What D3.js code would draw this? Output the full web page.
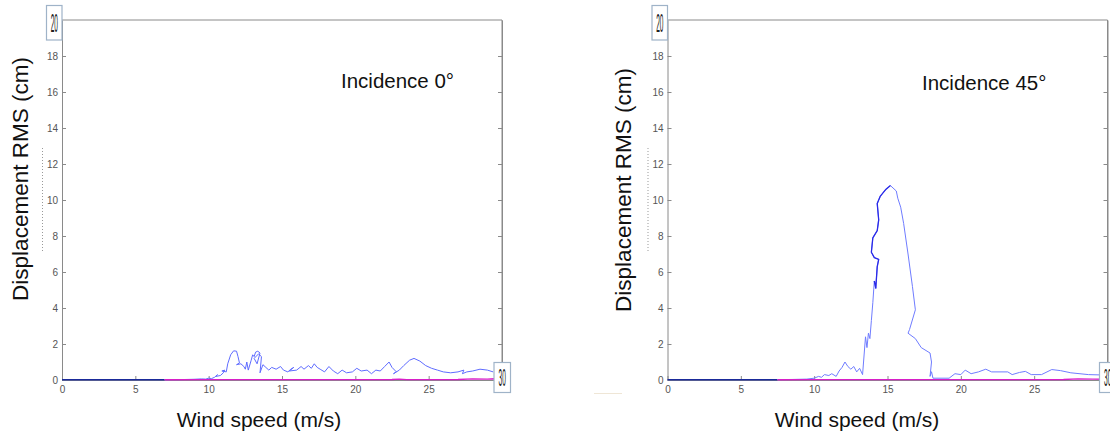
<!DOCTYPE html>
<html><head><meta charset="utf-8">
<script src="https://cdn.jsdelivr.net/npm/d3@7"></script>
<style>body{margin:0;background:#fff}svg{display:block}</style>
</head><body>
<svg id="c" width="1110" height="434"></svg>
<script>
// ---- data ----
const xTicks = [0,5,10,15,20,25];
const yTicks = [0,2,4,6,8,10,12,14,16,18];
const titles = ["Incidence 0°","Incidence 45°"];
const xLabel = "Wind speed (m/s)";
const yLabel = "Displacement RMS (cm)";

// left (0°) – blue trace, wind speed / RMS displacement
const leftWind = [7.0,7.5,8.0,8.5,9.0,9.5,9.8,10.0,10.2,10.4,10.6,10.5,10.8,11.0,11.1,10.9,11.2,11.3,11.5,11.7,11.9,12.0,12.1,11.9,12.2,12.4,12.5,12.6,12.7,12.9,13.0,13.1,13.2,13.35,13.5,13.3,13.1,13.4,13.6,13.5,13.7,13.9,14.1,14.3,14.6,14.9,15.1,15.4,15.6,15.8,15.5,16.0,16.3,16.5,16.8,17.0,17.2,17.4,17.6,17.9,18.2,18.5,18.8,19.1,19.4,19.8,20.1,20.4,20.8,21.1,21.4,21.7,22.0,22.3,22.5,22.8,22.6,23.0,23.3,23.7,24.0,24.4,24.8,25.2,25.6,26.0,26.5,27.0,27.4,27.3,27.6,28.0,28.5,29.0,29.4];
const leftDisp = [0.01,0.02,0.02,0.03,0.04,0.06,0.05,0.1,0.08,0.15,0.3,0.2,0.25,0.4,0.55,0.5,0.45,0.9,1.4,1.62,1.6,1.3,0.95,0.85,0.9,0.75,0.6,1.0,0.55,1.1,1.4,1.3,1.55,1.6,1.5,0.9,1.2,1.45,1.3,0.4,0.85,0.7,0.55,0.7,0.6,0.75,0.55,0.45,0.6,0.7,0.5,0.55,0.75,0.6,0.8,0.65,0.9,0.7,0.6,0.45,0.75,0.5,0.35,0.55,0.4,0.45,0.65,0.5,0.55,0.35,0.55,0.5,0.75,1.0,0.7,0.45,0.35,0.55,0.8,1.1,1.2,1.05,0.8,0.65,0.55,0.45,0.4,0.45,0.55,0.35,0.45,0.5,0.6,0.55,0.45];
const leftMagWind = [7,10,15,20,22.5,23,23.5,27,28,29,29.5,30];
const leftMagDisp = [0.01,0.02,0.02,0.02,0.03,0.05,0.02,0.03,0.06,0.05,0.07,0.04];
const leftNavyWind = [0,7];
const leftNavyDisp = [0.01,0.01];

// right (45°)
const rightWind = [7.5,8.5,9.5,10.0,10.3,10.5,10.7,11.0,11.2,11.5,11.7,11.9,12.1,12.3,12.5,12.7,12.9,13.1,13.3,13.5,13.6,13.7,13.8,13.9,14.0,14.1,14.2,14.3,14.4,14.1,13.9,14.0,14.3,14.4,14.3,14.5,14.9,15.2,15.6,15.7,15.9,16.1,16.4,16.7,16.9,16.5,16.4,16.9,17.3,17.9,18.0,17.9,18.0,18.1,19.2,19.6,20.0,20.3,20.7,21.2,21.7,22.1,23.2,23.5,24.0,24.4,24.8,25.5,26.2,26.8,27.5,28.7,29.6];
const rightDisp = [0.02,0.03,0.05,0.1,0.2,0.15,0.3,0.25,0.35,0.2,0.5,0.7,1.0,0.75,0.6,0.75,0.45,0.65,0.3,2.4,1.8,2.6,2.3,3.3,4.3,5.5,5.1,6.3,6.7,6.8,7.1,7.9,8.3,8.9,9.8,10.2,10.6,10.8,10.5,10.1,9.6,8.7,7.0,5.2,3.9,2.8,2.6,2.3,1.8,1.5,1.0,0.2,0.46,0.1,0.1,0.35,0.3,0.55,0.35,0.45,0.6,0.45,0.45,0.3,0.42,0.48,0.3,0.3,0.58,0.52,0.4,0.3,0.28];
const rightFlankWind = [14.1,14.2,14.3,14.4,14.1,13.9,14.0,14.3,14.4,14.3,14.5,14.9,15.2];
const rightFlankDisp = [5.5,5.1,6.3,6.7,6.8,7.1,7.9,8.3,8.9,9.8,10.2,10.6,10.8];
const rightMagWind = [7.5,10,15,20,25,27,28,29,30];
const rightMagDisp = [0.01,0.02,0.02,0.02,0.02,0.03,0.06,0.05,0.04];
const rightNavyWind = [0,7.5];
const rightNavyDisp = [0.01,0.01];

const panels = [
  {x0:62, x1:502, title:titles[0], tx:341, ty:88, labX:28, labY:179, xlX:259,
   series:[
     {w:leftNavyWind,d:leftNavyDisp,c:"#1a2a9a",sw:1.6},
     {w:leftWind,d:leftDisp,c:"#5f6cff",sw:1},
     {w:leftMagWind,d:leftMagDisp,c:"#d81fc8",sw:1.4}
   ]},
  {x0:667.5, x1:1107.5, title:titles[1], tx:922, ty:90, labX:631, labY:190, xlX:857,
   series:[
     {w:rightNavyWind,d:rightNavyDisp,c:"#1a2a9a",sw:1.6},
     {w:rightWind,d:rightDisp,c:"#6f7cff",sw:1},
     {w:rightFlankWind,d:rightFlankDisp,c:"#2a2ae8",sw:1.3},
     {w:rightMagWind,d:rightMagDisp,c:"#d81fc8",sw:1.4}
   ]}
];

const svg = d3.select("#c");
const yTop = 20, yBot = 380;
const axisCol = "#8a8a8a", tickTxt = "#555";
const FONT = "Liberation Sans, Arial, sans-serif";

panels.forEach(p => {
  const x = d3.scaleLinear().domain([0,30]).range([p.x0,p.x1]);
  const y = d3.scaleLinear().domain([0,20]).range([yBot,yTop]);
  const g = svg.append("g");

  // frame
  g.append("line").attr("x1",x(0)).attr("x2",x(30)).attr("y1",yTop).attr("y2",yTop).attr("stroke",axisCol);
  g.append("line").attr("x1",x(30)).attr("x2",x(30)).attr("y1",yTop).attr("y2",yBot).attr("stroke",axisCol);

  // axes with inward ticks
  const xa = g.append("g").attr("transform",`translate(0,${yBot})`)
    .call(d3.axisBottom(x).tickValues(xTicks).tickSizeInner(-4).tickSizeOuter(0).tickPadding(6));
  const ya = g.append("g").attr("transform",`translate(${x(0)},0)`)
    .call(d3.axisLeft(y).tickValues(yTicks).tickSizeInner(-4).tickSizeOuter(0).tickPadding(4));
  const ra = g.append("g").attr("transform",`translate(${x(30)},0)`)
    .call(d3.axisRight(y).tickValues(yTicks.slice(1)).tickSizeInner(-4).tickSizeOuter(0).tickFormat(""));
  [xa,ya,ra].forEach(a=>{
    a.select(".domain").attr("stroke",axisCol);
    a.selectAll(".tick line").attr("stroke",axisCol);
    a.selectAll(".tick text").attr("fill",tickTxt).style("font-family",FONT).style("font-size","10px");
  });

  // series
  const line = d3.line().x(d=>x(d[0])).y(d=>y(d[1]));
  p.series.forEach(s=>{
    g.append("path").datum(d3.zip(s.w,s.d)).attr("d",line)
      .attr("fill","none").attr("stroke",s.c).attr("stroke-width",s.sw).attr("stroke-linejoin","round");
  });

  // "20" edit box top-left
  const bx = x(0)-16, by = 5;
  g.append("rect").attr("x",bx+0.5).attr("y",by+0.5).attr("width",15.5).attr("height",34.5)
    .attr("fill","#fff").attr("stroke","#9fb3c8").attr("stroke-width",1.2);
  g.append("text").text("20").attr("transform",`translate(${bx+8.3},${by+27}) scale(0.65,2.6)`)
    .attr("text-anchor","middle").attr("fill","#222").style("font-family",FONT).style("font-size","10px");
  // "30" edit box bottom-right
  const cx = x(30)-8.5, cy = 362;
  g.append("rect").attr("x",cx+0.5).attr("y",cy+0.5).attr("width",16.5).attr("height",30)
    .attr("fill","#fff").attr("stroke","#9fb3c8").attr("stroke-width",1.2);
  g.append("text").text("30").attr("transform",`translate(${cx+8.7},${cy+24}) scale(0.65,2.4)`)
    .attr("text-anchor","middle").attr("fill","#222").style("font-family",FONT).style("font-size","10px");

  // faint dotted artefact near y label
  g.append("line").attr("x1",x(0)-19.5).attr("x2",x(0)-19.5).attr("y1",148).attr("y2",252)
    .attr("stroke","#999").attr("stroke-dasharray","1,2");

  // labels
  g.append("text").text(p.title).attr("x",p.tx).attr("y",p.ty)
    .style("font-family",FONT).style("font-size","20.5px").attr("fill","#111");
  g.append("text").text(xLabel).attr("x",p.xlX).attr("y",427).attr("text-anchor","middle")
    .style("font-family",FONT).style("font-size","21px").attr("fill","#111");
  g.append("text").text(yLabel).attr("transform",`translate(${p.labX},${p.labY}) rotate(-90)`).attr("text-anchor","middle")
    .style("font-family",FONT).style("font-size","22.5px").attr("fill","#111");
});
// faint beige stroke bottom-left of right panel
svg.append("line").attr("x1",594).attr("x2",622).attr("y1",393.5).attr("y2",393.5).attr("stroke","#efe6d6");
</script>
</body></html>
